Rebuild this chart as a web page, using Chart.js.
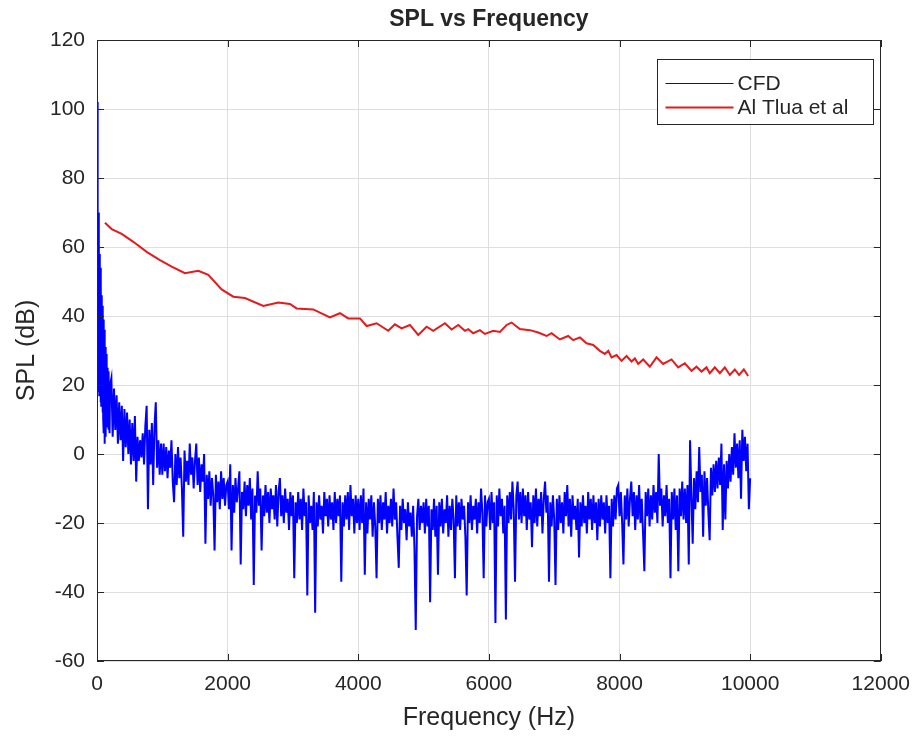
<!DOCTYPE html>
<html>
<head>
<meta charset="utf-8">
<title>SPL vs Frequency</title>
<script src="https://cdn.jsdelivr.net/npm/chart.js@4.4.1/dist/chart.umd.min.js"></script>
<style>
  html, body { margin: 0; padding: 0; background: #ffffff; }
</style>
</head>
<body>
<canvas id="splChart" width="921" height="738"></canvas>
<script>
// CFD spectrum, low end: one value every 5 Hz from 0 to 200 Hz
const cfdLowStep = 5;
const cfdLowSpl = [
  102, 20, 76, 18, 70, 21, 63, 17, 58, 19, 54, 15, 50, 14, 46, 16, 43, 12, 41, 10,
  39, 6, 36, 3, 33, 9, 31, 5, 29, 11, 27, 8, 25, 12, 24, 7, 23, 10, 21, 6, 20
];
// CFD spectrum, rest: one value every 20 Hz from 220 to 10000 Hz
const cfdStart = 220;
const cfdStep = 20;
const cfdSpl = [
  22, 5, 19, 7, 17, 3, 15, 4, 14, -2, 13, 2, 12, 0,
  10, -3, 9, -2, 11, -8, 5, -2, 4, -1, 6, -3, 8, 14, -16, 7, -3, 9, -9, 8, 15, -4, 4, -6, 3,
  -6, 3, -5, 2, -7, 1, -4, 4, -8, -14, 0, -9, 2, -7, -1, -10, -24, 1, -8, -2, -9, 3, -6, -1, -10,
  -2, 3, -9, -1, -11, -3, -8, 0, -26, -6, -13, -5, -15, -7, -12, -28, -6, -14, -8, -16, -5, -13, -7, -15, -9,
  -8, -16, -3, -28, -9, -17, -7, -14, -10, -5, -32, -11, -16, -8, -18, -9, -15, -7, -19, -10, -38, -12, -17, -5, -15,
  -10, -28, -12, -18, -9, -17, -11, -20, -10, -16, -12, -19, -9, -21, -11, -7, -18, -12, -20, -10, -17, -13, -22, -11, -18,
  -12, -36, -14, -20, -11, -19, -13, -22, -10, -18, -14, -41, -12, -20, -15, -22, -11, -46, -14, -21, -12, -19, -15, -23, -11,
  -18, -13, -21, -12, -19, -14, -22, -11, -20, -13, -18, -12, -37, -14, -21, -12, -19, -11, -22, -9, -18, -13, -23, -12, -20,
  -13, -22, -12, -20, -10, -35, -14, -23, -13, -19, -12, -24, -14, -21, -36, -13, -20, -12, -22, -14, -19, -11, -23, -15, -20,
  -13, -21, -10, -19, -14, -24, -33, -15, -22, -13, -20, -16, -25, -14, -21, -17, -24, -15, -27, -51, -18, -13, -22, -15, -20,
  -14, -23, -13, -21, -15, -43, -16, -22, -13, -24, -15, -35, -14, -21, -13, -23, -16, -20, -12, -24, -15, -22, -13, -19, -36,
  -12, -21, -14, -22, -13, -19, -15, -24, -41, -14, -20, -12, -22, -15, -19, -13, -23, -14, -20, -10, -17, -36, -12, -21, -14,
  -13, -22, -11, -20, -14, -49, -12, -21, -10, -18, -13, -23, -15, -48, -12, -20, -11, -19, -8, -16, -37, -12, -8, -19, -11,
  -20, -10, -18, -12, -22, -11, -19, -14, -27, -12, -20, -10, -21, -13, -18, -11, -23, -13, -8, -17, -12, -37, -14, -21, -12,
  -19, -38, -13, -22, -12, -20, -14, -23, -11, -18, -9, -21, -13, -24, -12, -19, -15, -22, -13, -30, -14, -21, -12, -20, -15,
  -23, -11, -19, -13, -22, -12, -20, -14, -25, -13, -21, -12, -19, -14, -23, -12, -20, -15, -36, -13, -21, -12, -19, -10, -9,
  -18, -11, -20, -32, -12, -19, -10, -21, -13, -8, -18, -11, -22, -12, -19, -9, -20, -13, -23, -34, -11, -18, -10, -21, -12,
  -19, -9, -17, -11, -20, 0, -15, -10, -21, -12, -18, -9, -20, -13, -36, -11, -19, -10, -22, -12, -34, -10, -18, -8, -19,
  -10, -20, -9, -32, 4, -12, -26, -7, -16, -5, -14, 2, -11, -6, -24, -5, -15, -7, -17, -25, -4, -12, -3, -11, -2,
  -10, -1, -9, 3, -22, -3, -19, -2, -10, 0, -8, 2, -6, 6, -4, 3, -7, 4, -13, 7, -2, 5, -5, 3, -16,
  -7
];

// Al Tlua et al reference curve
const refFreq = [
  122, 225, 378, 556, 760, 964, 1143, 1347, 1551, 1704, 1908, 2087, 2265, 2546, 2776, 2954, 3056, 3311,
  3566, 3719, 3847, 4026, 4128, 4281, 4459, 4561, 4663, 4791, 4918, 5046, 5148, 5327, 5429, 5531, 5633,
  5684, 5760, 5862, 5939, 6067, 6169, 6271, 6347, 6474, 6628, 6755, 6883, 6959, 7087, 7214, 7291, 7393,
  7495, 7597, 7699, 7776, 7827, 7878, 7954, 8031, 8107, 8184, 8235, 8286, 8362, 8464, 8566, 8668, 8796,
  8898, 9000, 9102, 9178, 9255, 9331, 9382, 9459, 9536, 9612, 9689, 9765, 9831, 9903, 9969
];
const refSpl = [
  67.0, 65.2, 63.8, 61.5, 58.6, 56.2, 54.3, 52.4, 53.1, 51.9, 47.7, 45.6, 45.2, 42.9, 43.9, 43.5, 42.2, 41.9,
  39.6, 40.8, 39.3, 39.3, 37.1, 37.9, 35.7, 37.6, 36.4, 37.4, 34.5, 36.9, 35.7, 37.9, 36.1, 37.4, 35.7,
  36.2, 35.0, 35.9, 34.8, 35.7, 35.4, 37.4, 38.1, 36.2, 35.9, 35.2, 34.2, 35.0, 33.2, 34.2, 33.0, 33.8,
  32.1, 31.6, 29.9, 29.0, 29.9, 28.0, 28.7, 27.0, 28.4, 26.8, 27.7, 26.1, 27.4, 25.3, 28.0, 26.1, 27.4,
  25.1, 26.3, 24.1, 25.3, 23.9, 25.1, 23.4, 25.1, 23.4, 25.1, 22.9, 24.5, 22.9, 24.5, 22.6
];

const xTicksMin = 0, xTicksMax = 12000, xTicksStep = 2000;
const yTicksMin = -60, yTicksMax = 120, yTicksStep = 20;

const fontFamily = "'Liberation Sans', Arial, Helvetica, sans-serif";
const textColor = '#262626';
const legendLineWidths = [1, 2];

const cfdPoints = cfdLowSpl.map((v, i) => ({ x: i * cfdLowStep, y: v }))
    .concat(cfdSpl.map((v, i) => ({ x: cfdStart + i * cfdStep, y: v })));
const refPoints = refFreq.map((f, i) => ({ x: f, y: refSpl[i] }));

// MATLAB style box: full frame, inward ticks on all sides, boxed legend
const matlabBox = {
    id: 'matlabBox',
    afterDraw(chart) {
        const ctx = chart.ctx;
        const a = chart.chartArea;
        const xs = chart.scales.x;
        const ys = chart.scales.y;
        const tl = 7;
        ctx.save();
        ctx.strokeStyle = textColor;
        ctx.lineWidth = 1;
        ctx.beginPath();
        xs.ticks.forEach(t => {
            const px = Math.round(xs.getPixelForValue(t.value)) + 0.5;
            ctx.moveTo(px, a.bottom); ctx.lineTo(px, a.bottom - tl);
            ctx.moveTo(px, a.top); ctx.lineTo(px, a.top + tl);
        });
        ys.ticks.forEach(t => {
            const py = Math.round(ys.getPixelForValue(t.value)) + 0.5;
            ctx.moveTo(a.left, py); ctx.lineTo(a.left + tl, py);
            ctx.moveTo(a.right, py); ctx.lineTo(a.right - tl, py);
        });
        ctx.stroke();
        ctx.strokeRect(Math.round(a.left) + 0.5, Math.round(a.top) + 0.5,
            Math.round(a.right - a.left) - 1, Math.round(a.bottom - a.top) - 1);

        // legend
        const lw = 216, lh = 65;
        const lx = Math.round(a.right - 8 - lw) + 0.5;
        const ly = Math.round(a.top + 19) + 0.5;
        ctx.fillStyle = '#ffffff';
        ctx.fillRect(lx, ly, lw, lh);
        ctx.strokeStyle = textColor;
        ctx.strokeRect(lx, ly, lw, lh);
        ctx.font = '21px ' + fontFamily;
        ctx.textBaseline = 'middle';
        ctx.textAlign = 'left';
        chart.data.datasets.forEach((ds, i) => {
            const rowY = ly + 24 + i * 24;
            ctx.strokeStyle = ds.borderColor;
            ctx.lineWidth = legendLineWidths[i];
            ctx.beginPath();
            ctx.moveTo(lx + 8, rowY);
            ctx.lineTo(lx + 76, rowY);
            ctx.stroke();
            ctx.fillStyle = textColor;
            ctx.fillText(ds.label, lx + 80, rowY + 1);
        });
        ctx.restore();
    }
};

const ctx = document.getElementById('splChart').getContext('2d');
new Chart(ctx, {
    type: 'line',
    data: {
        datasets: [{
            label: 'CFD',
            data: cfdPoints,
            borderColor: '#0000ff',
            borderWidth: 2,
            pointRadius: 0,
            tension: 0
        }, {
            label: 'Al Tlua et al',
            data: refPoints,
            borderColor: '#e41a1c',
            borderWidth: 2,
            pointRadius: 0,
            tension: 0
        }]
    },
    options: {
        responsive: false,
        animation: false,
        devicePixelRatio: 1,
        layout: { padding: { left: 0, right: 40, top: 0, bottom: 0 } },
        plugins: {
            legend: { display: false },
            tooltip: { enabled: false },
            title: {
                display: true,
                text: 'SPL vs Frequency',
                fullSize: false,
                color: textColor,
                font: { family: fontFamily, size: 23, weight: 'bold', lineHeight: 1.2 },
                padding: { top: 5.5, bottom: 6.9 }
            }
        },
        scales: {
            x: {
                type: 'linear',
                min: xTicksMin,
                max: xTicksMax,
                ticks: {
                    stepSize: xTicksStep,
                    color: textColor,
                    padding: 11,
                    maxRotation: 0,
                    font: { family: fontFamily, size: 21 },
                    callback: value => String(value)
                },
                grid: { color: '#dedede', drawTicks: false },
                border: { display: false },
                title: {
                    display: true,
                    text: 'Frequency (Hz)',
                    color: textColor,
                    font: { family: fontFamily, size: 25 },
                    padding: { top: 0, bottom: 5 }
                },
                afterFit: scale => { scale.height = 77; }
            },
            y: {
                min: yTicksMin,
                max: yTicksMax,
                ticks: {
                    stepSize: yTicksStep,
                    color: textColor,
                    padding: 12,
                    font: { family: fontFamily, size: 21 }
                },
                grid: { color: '#dedede', drawTicks: false },
                border: { display: false },
                title: {
                    display: true,
                    text: 'SPL (dB)',
                    color: textColor,
                    font: { family: fontFamily, size: 25 },
                    padding: { top: 12, bottom: 0 }
                },
                afterFit: scale => { scale.width = 97; }
            }
        }
    },
    plugins: [matlabBox]
});
</script>
</body>
</html>
